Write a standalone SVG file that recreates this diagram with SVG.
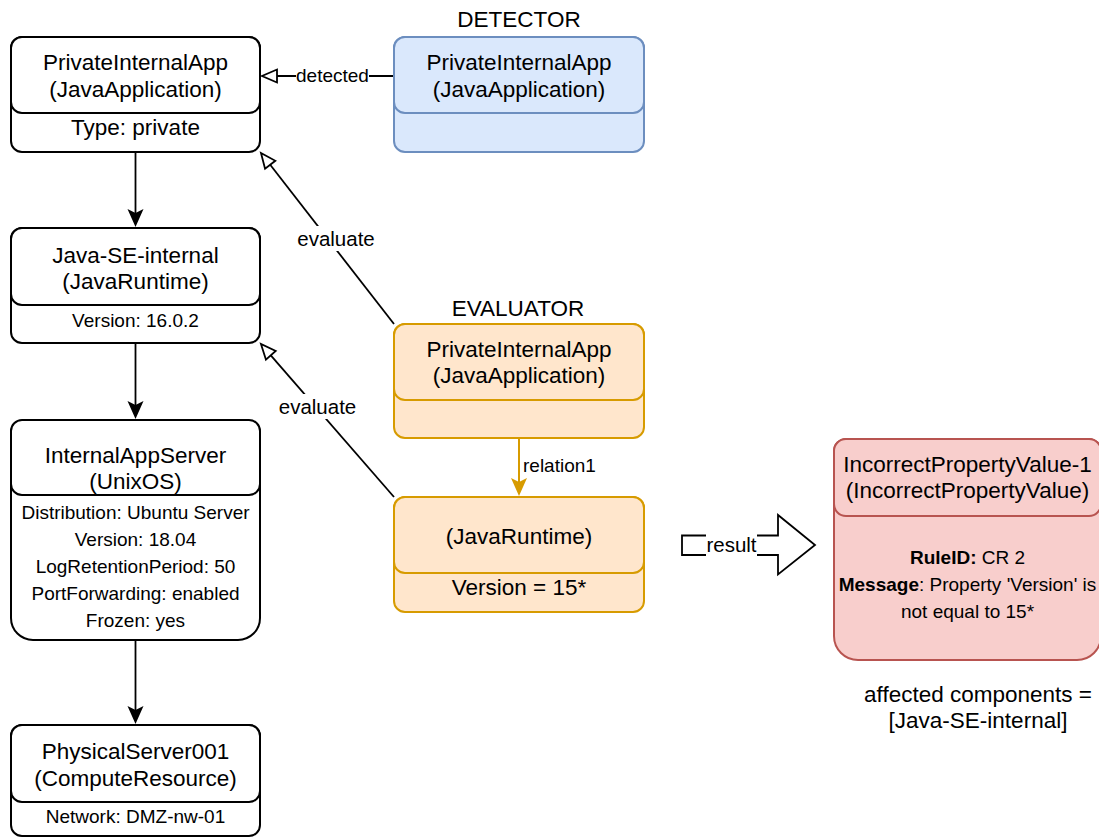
<svg xmlns="http://www.w3.org/2000/svg" width="1099" height="837" viewBox="0 0 1099 837">
  <style>
    text { font-family: "Liberation Sans", Arial, Helvetica, sans-serif; fill: #000; text-anchor: middle; }
    .big { font-size: 22.5px; }
    .small { font-size: 19px; }
    .mid { font-size: 20.5px; }
    .plain { fill: #ffffff; stroke: #000000; stroke-width: 2; }
    .blue { fill: #dae8fc; stroke: #6c8ebf; stroke-width: 2; }
    .orange { fill: #ffe6cc; stroke: #d79b00; stroke-width: 2; }
    .red { fill: #f8cecc; stroke: #b85450; stroke-width: 2; }
    .edge { fill: none; stroke: #000000; stroke-width: 1.8; }
    .lblbg { fill: #ffffff; stroke: none; }
  </style>
  <defs>
    <!-- filled classic arrowhead; path ends at the notch -->
    <marker id="classic" markerUnits="userSpaceOnUse" markerWidth="20" markerHeight="18" refX="4" refY="8" orient="auto" overflow="visible">
      <path d="M0,0 L18,8 L0,16 L4,8 Z" fill="#000000"/>
    </marker>
    <marker id="classicOrange" markerUnits="userSpaceOnUse" markerWidth="20" markerHeight="18" refX="4" refY="8" orient="auto" overflow="visible">
      <path d="M0,0 L18,8 L0,16 L4,8 Z" fill="#d79b00"/>
    </marker>
    <!-- open triangle; path ends at the base -->
    <marker id="openBlock" markerUnits="userSpaceOnUse" markerWidth="18" markerHeight="16" refX="0" refY="6.5" orient="auto" overflow="visible">
      <path d="M0,0 L15,6.5 L0,13 Z" fill="#ffffff" stroke="#000000" stroke-width="1.8" stroke-linejoin="miter"/>
    </marker>
  </defs>

  <rect width="1099" height="837" fill="#ffffff"/>

  <!-- connectors -->
  <g id="connectors">
    <path class="edge" d="M135.5,152 V213" marker-end="url(#classic)"/>
    <path class="edge" d="M135.5,343 V405" marker-end="url(#classic)"/>
    <path class="edge" d="M135.5,640 V710" marker-end="url(#classic)"/>

    <!-- detected -->
    <path class="edge" d="M394,76 H277" marker-end="url(#openBlock)"/>
    <rect class="lblbg" x="296" y="64" width="73" height="22"/>
    <text class="small" x="332.5" y="82">detected</text>

    <!-- evaluate (application) -->
    <path class="edge" d="M394,324 L270.2,164.8" marker-end="url(#openBlock)"/>
    <rect class="lblbg" x="295" y="226" width="82" height="25"/>
    <text class="mid" x="336" y="246">evaluate</text>

    <!-- evaluate (runtime) -->
    <path class="edge" d="M394,497 L270.8,355.3" marker-end="url(#openBlock)"/>
    <rect class="lblbg" x="276" y="394" width="83" height="25"/>
    <text class="mid" x="317.5" y="414">evaluate</text>

    <!-- relation1 -->
    <path d="M519,438 V482" fill="none" stroke="#d79b00" stroke-width="2" marker-end="url(#classicOrange)"/>
    <text class="small" x="523" y="472" style="text-anchor:start">relation1</text>

    <!-- result block arrow -->
    <path d="M682,535.5 H778 V515 L815,545 L778,574.5 V555 H682 Z" fill="#ffffff" stroke="#000000" stroke-width="1.8" stroke-linejoin="miter"/>
    <rect class="lblbg" x="706" y="532" width="51" height="26"/>
    <text x="731.5" y="552" style="font-size:20.5px">result</text>
  </g>

  <!-- PrivateInternalApp -->
  <g id="node-app">
    <rect class="plain" x="11" y="37" width="249" height="115" rx="11"/>
    <rect class="plain" x="11" y="37" width="249" height="76" rx="11"/>
    <text class="big" x="135.5" y="70">PrivateInternalApp</text>
    <text class="big" x="135.5" y="97">(JavaApplication)</text>
    <text class="big" x="135.5" y="135">Type: private</text>
  </g>

  <!-- Java-SE-internal -->
  <g id="node-runtime">
    <rect class="plain" x="11" y="228" width="249" height="115" rx="11"/>
    <rect class="plain" x="11" y="228" width="249" height="77" rx="11"/>
    <text class="big" x="135.5" y="263">Java-SE-internal</text>
    <text class="big" x="135.5" y="289">(JavaRuntime)</text>
    <text class="small" x="135.5" y="327">Version: 16.0.2</text>
  </g>

  <!-- InternalAppServer -->
  <g id="node-os">
    <rect class="plain" x="11" y="420" width="249" height="220" rx="22"/>
    <rect class="plain" x="11" y="420" width="249" height="75" rx="11"/>
    <text class="big" x="135.5" y="463">InternalAppServer</text>
    <text class="big" x="135.5" y="489">(UnixOS)</text>
    <text class="small" x="135.5" y="519">Distribution: Ubuntu Server</text>
    <text class="small" x="135.5" y="546">Version: 18.04</text>
    <text class="small" x="135.5" y="573">LogRetentionPeriod: 50</text>
    <text class="small" x="135.5" y="600">PortForwarding: enabled</text>
    <text class="small" x="135.5" y="627">Frozen: yes</text>
  </g>

  <!-- PhysicalServer001 -->
  <g id="node-server">
    <rect class="plain" x="11" y="725" width="249" height="111" rx="11"/>
    <rect class="plain" x="11" y="725" width="249" height="77" rx="11"/>
    <text class="big" x="135.5" y="759">PhysicalServer001</text>
    <text class="big" x="135.5" y="786">(ComputeResource)</text>
    <text class="small" x="135.5" y="823">Network: DMZ-nw-01</text>
  </g>

  <!-- detector pattern -->
  <g id="node-detector">
    <text class="big" x="519" y="27">DETECTOR</text>
    <rect class="blue" x="394" y="37" width="250" height="115" rx="11"/>
    <rect class="blue" x="394" y="37" width="250" height="76" rx="11"/>
    <text class="big" x="519" y="70">PrivateInternalApp</text>
    <text class="big" x="519" y="97">(JavaApplication)</text>
  </g>

  <!-- evaluator pattern -->
  <g id="node-evaluator-app">
    <text class="big" x="518" y="316">EVALUATOR</text>
    <rect class="orange" x="394" y="324" width="250" height="114" rx="11"/>
    <rect class="orange" x="394" y="324" width="250" height="76" rx="11"/>
    <text class="big" x="519" y="357">PrivateInternalApp</text>
    <text class="big" x="519" y="383">(JavaApplication)</text>
  </g>

  <g id="node-evaluator-runtime">
    <rect class="orange" x="394" y="497" width="250" height="115" rx="11"/>
    <rect class="orange" x="394" y="497" width="250" height="76" rx="11"/>
    <text class="big" x="519" y="544">(JavaRuntime)</text>
    <text class="big" x="519" y="595">Version = 15*</text>
  </g>

  <!-- result -->
  <g id="node-result">
    <path class="red" d="M846,439 H1089 A12,12 0 0 1 1101,451 V636 A24,24 0 0 1 1077,660 H858 A24,24 0 0 1 834,636 V451 A12,12 0 0 1 846,439 Z"/>
    <rect class="red" x="834" y="439" width="267" height="77" rx="12"/>
    <text class="big" x="967.5" y="472">IncorrectPropertyValue-1</text>
    <text class="big" x="967.5" y="498">(IncorrectPropertyValue)</text>
    <text class="small" x="967.5" y="564"><tspan font-weight="bold">RuleID:</tspan> CR 2</text>
    <text class="small" x="967.5" y="591"><tspan font-weight="bold">Message</tspan>: Property 'Version' is</text>
    <text class="small" x="967.5" y="618">not equal to 15*</text>
    <text class="big" x="978" y="702">affected components =</text>
    <text class="big" x="978" y="728">[Java-SE-internal]</text>
  </g>
</svg>
